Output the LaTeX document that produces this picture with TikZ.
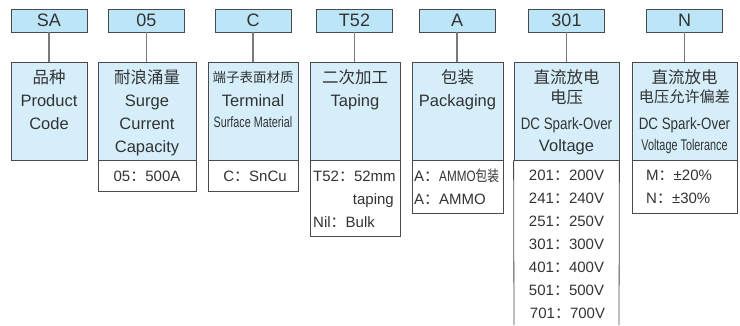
\documentclass[tikz,border=0pt]{standalone}
\usepackage{fontspec}
\usepackage{graphicx}
\setmainfont{Liberation Sans}
\newfontfamily\cjk{Noto Sans CJK SC}
\definecolor{topc}{HTML}{BDE5F8}
\definecolor{lowc}{HTML}{D5EEFA}
\definecolor{bordc}{HTML}{4A4A4A}
\definecolor{linkc}{HTML}{7A7A7A}
\definecolor{txt}{HTML}{333333}
\newcommand{\fwc}{{\cjk ：}}
\newcommand{\nar}[2]{\scalebox{#1}[1]{#2}}
\begin{document}
\begin{tikzpicture}[x=1pt,y=-1pt,
  codebox/.style={draw=bordc, fill=topc, line width=0.8pt, minimum width=76pt, minimum height=23pt, inner sep=0pt, text=txt, font=\fontsize{18}{18}\selectfont},
  bluebox/.style={draw=bordc, fill=lowc, line width=0.8pt, inner sep=0pt, minimum height=98pt},
  whitebox/.style={draw=bordc, fill=white, line width=0.8pt, inner sep=0pt},
  link/.style={draw=linkc, line width=1.4pt},
  lbl/.style={text=txt, inner sep=0pt, anchor=base, font=\fontsize{16.5}{16.5}\selectfont},
  zh/.style={text=txt, inner sep=0pt, anchor=base, font=\fontsize{16.5}{16.5}\selectfont\cjk},
  val/.style={text=txt, inner sep=0pt, anchor=base, font=\fontsize{15}{15}\selectfont}
]
\useasboundingbox (0,0) rectangle (740,325);

% white value boxes (drawn first)
\node[whitebox, minimum width=98pt, minimum height=31pt] (w2) at (147,175.5) {};
\node[whitebox, minimum width=90pt, minimum height=31pt] (w3) at (253,175.5) {};
\node[whitebox, minimum width=90pt, minimum height=76pt] (w4) at (355,198) {};
\node[whitebox, minimum width=91pt, minimum height=53pt] (w5) at (457.5,186.5) {};
\node[whitebox, minimum width=105pt, minimum height=53pt] (w7) at (684.5,186.5) {};
\coordinate (w6l) at (514,325);
\coordinate (w6r) at (619,325);

% blue boxes
\node[bluebox, minimum width=76pt] (b1) at (49,111) {};
\node[bluebox, minimum width=98pt] (b2) at (147,111) {};
\node[bluebox, minimum width=90pt] (b3) at (253,111) {};
\node[bluebox, minimum width=90pt] (b4) at (355,111) {};
\node[bluebox, minimum width=91pt] (b5) at (457.5,111) {};
\node[bluebox, minimum width=105pt] (b6) at (566.5,111) {};
\node[bluebox, minimum width=105pt] (b7) at (684.5,111) {};
\draw[draw=bordc, line width=0.8pt] (b6.south west) -- (w6l) (b6.south east) -- (w6r);

% code boxes
\node[codebox] (t1) at (49,20.5) {SA};
\node[codebox] (t2) at (146.5,20.5) {05};
\node[codebox] (t3) at (253,20.5) {C};
\node[codebox] (t4) at (354.5,20.5) {T52};
\node[codebox] (t5) at (457,20.5) {A};
\node[codebox] (t6) at (566.5,20.5) {301};
\node[codebox] (t7) at (684.5,20.5) {N};

% connectors
\foreach \i in {1,...,7} {\draw[link] (t\i.south) -- (t\i.south |- b\i.north);}

% column 1
\node[zh] (a1) at (49,83) {品种};
\node[lbl] (a2) at (49,106) {Product};
\node[lbl] (a3) at (49,129) {Code};
% column 2
\node[zh] (c1) at (147,83) {耐浪涌量};
\node[lbl] (c2) at (147,106) {Surge};
\node[lbl] (c3) at (147,129) {Current};
\node[lbl] (c4) at (147,152) {Capacity};
\node[val] (c5) at (147,181.5) {05\fwc 500A};
% column 3
\node[zh, font=\fontsize{13.5}{13.5}\selectfont\cjk] (d1) at (253,82) {端子表面材质};
\node[lbl] (d2) at (253,106) {Terminal};
\node[lbl, font=\fontsize{15}{15}\selectfont] (d3) at (253,127.5) {\nar{0.72}{Surface Material}};
\node[val] (d4) at (255,181.5) {C\fwc SnCu};
% column 4
\node[zh] (e1) at (355,83) {二次加工};
\node[lbl] (e2) at (355,106) {Taping};
\node[val, anchor=base west] (e3) at (313,181.5) {T52\fwc 52mm};
\node[val, anchor=base east] (e4) at (394,204.5) {taping};
\node[val, anchor=base west] (e5) at (313,227.5) {Nil\fwc Bulk};
% column 5
\node[zh] (f1) at (457.5,83) {包装};
\node[lbl] (f2) at (457.5,106) {Packaging};
\node[val, anchor=base west] (f3) at (414,181.5) {A\fwc \nar{0.78}{AMMO{\cjk 包装}}};
\node[val, anchor=base west] (f4) at (414,204.5) {A\fwc AMMO};
% column 6
\node[zh] (g1) at (566.5,83) {直流放电};
\node[zh] (g2) at (566.5,103) {电压};
\node[lbl] (g3) at (566.5,129) {\nar{0.81}{DC Spark-Over}};
\node[lbl] (g4) at (566.5,151) {Voltage};
\node[val] (v1) at (566.5,180.5) {201\fwc 200V};
\node[val] (v2) at (566.5,203.5) {241\fwc 240V};
\node[val] (v3) at (566.5,226.5) {251\fwc 250V};
\node[val] (v4) at (566.5,249.5) {301\fwc 300V};
\node[val] (v5) at (566.5,272.5) {401\fwc 400V};
\node[val] (v6) at (566.5,295.5) {501\fwc 500V};
\node[val] (v7) at (567.5,318.5) {701\fwc 700V};
% column 7
\node[zh] (h1) at (684.5,83) {直流放电};
\node[zh, font=\fontsize{15.2}{15.2}\selectfont\cjk] (h2) at (684.5,102.5) {电压允许偏差};
\node[lbl] (h3) at (684.5,129) {\nar{0.81}{DC Spark-Over}};
\node[lbl, font=\fontsize{15.5}{15.5}\selectfont] (h4) at (684.5,150.5) {\nar{0.70}{Voltage Tolerance}};
\node[val, anchor=base west] (h5) at (646,180.5) {M\fwc ±20\%};
\node[val, anchor=base west] (h6) at (646,203.5) {N\fwc ±30\%};
\end{tikzpicture}
\end{document}
